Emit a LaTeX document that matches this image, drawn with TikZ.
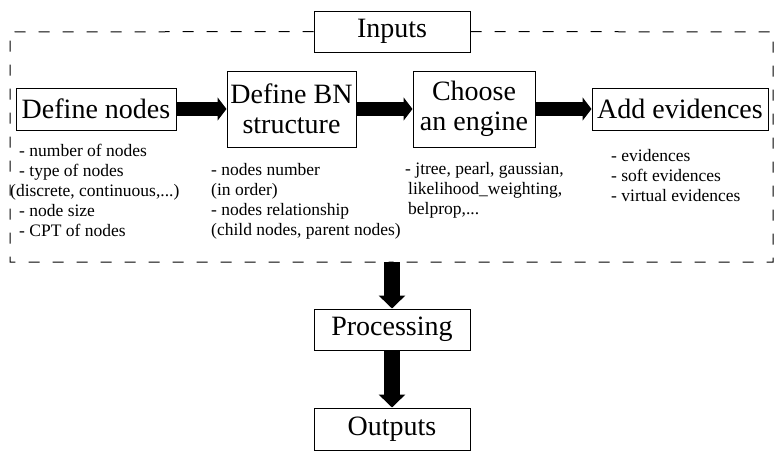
\documentclass[tikz,border=0pt]{standalone}
\usepackage{fontspec}
\setmainfont{Liberation Serif}
\usetikzlibrary{arrows.meta}
\tikzset{
  bigbox/.style={draw, line width=1pt, inner sep=0pt, align=center, font=\fontsize{28}{30}\selectfont},
  note/.style={anchor=base west, inner sep=0pt, font=\fontsize{17.5}{20}\selectfont},
  harrow/.style={line width=14pt, -{Triangle[width=23pt,length=9pt]}},
  varrow/.style={line width=16pt, -{Triangle[width=26pt,length=13pt]}},
  dashbox/.style={line width=1pt, dash pattern=on 11pt off 13pt}
}
\begin{document}
\begin{tikzpicture}[x=1pt,y=-1pt]
\useasboundingbox (0,0) rectangle (779,451);
% boxes
\node[bigbox, minimum width=156pt, minimum height=41pt] (inputs) at (392,31.5) {Inputs};
\node[bigbox, minimum width=160pt, minimum height=42pt] (defnodes) at (96,109) {Define nodes};
\node[bigbox, minimum width=129pt, minimum height=76pt] (bn) at (291.5,109) {Define BN\\structure};
\node[bigbox, minimum width=122pt, minimum height=76pt] (engine) at (474,109) {Choose\\an engine};
\node[bigbox, minimum width=176pt, minimum height=42pt] (evid) at (680,109) {Add evidences};
\node[bigbox, minimum width=156pt, minimum height=41pt] (proc) at (392,329.5) {Processing};
\node[bigbox, minimum width=156pt, minimum height=42pt] (outp) at (392,429) {Outputs};
% dashed frame
\coordinate (fbot) at (392,262);
\draw[dashbox] (inputs.west) -- (10,32) -- (10,262) -- (fbot);
\draw[dashbox] (inputs.east) -- (773,32) -- (773,262) -- (fbot);
% arrows
\draw[harrow] (defnodes.east) -- (bn.west);
\draw[harrow] (bn.east) -- (engine.west);
\draw[harrow] (engine.east) -- (evid.west);
\draw[varrow] (fbot) -- (proc.north);
\draw[varrow] (proc.south) -- (outp.north);
% notes
\node[note] (n1) at (19,156.5) {- number of nodes};
\node[note] (n2) at (19,176.5) {- type of nodes};
\node[note] (n3) at (10,196.5) {(discrete, continuous,...)};
\node[note] (n4) at (19,216.5) {- node size};
\node[note] (n5) at (19,236.5) {- CPT of nodes};
\node[note] (b1) at (211,175) {- nodes number};
\node[note] (b2) at (211,195) {(in order)};
\node[note] (b3) at (211,215) {- nodes relationship};
\node[note] (b4) at (211,235) {(child nodes, parent nodes)};
\node[note] (e1) at (405,174) {- jtree, pearl, gaussian,};
\node[note] (e2) at (408,194) {likelihood\_weighting,};
\node[note] (e3) at (408,214) {belprop,...};
\node[note] (v1) at (611,161) {- evidences};
\node[note] (v2) at (611,181) {- soft evidences};
\node[note] (v3) at (611,201) {- virtual evidences};
\end{tikzpicture}
\end{document}
